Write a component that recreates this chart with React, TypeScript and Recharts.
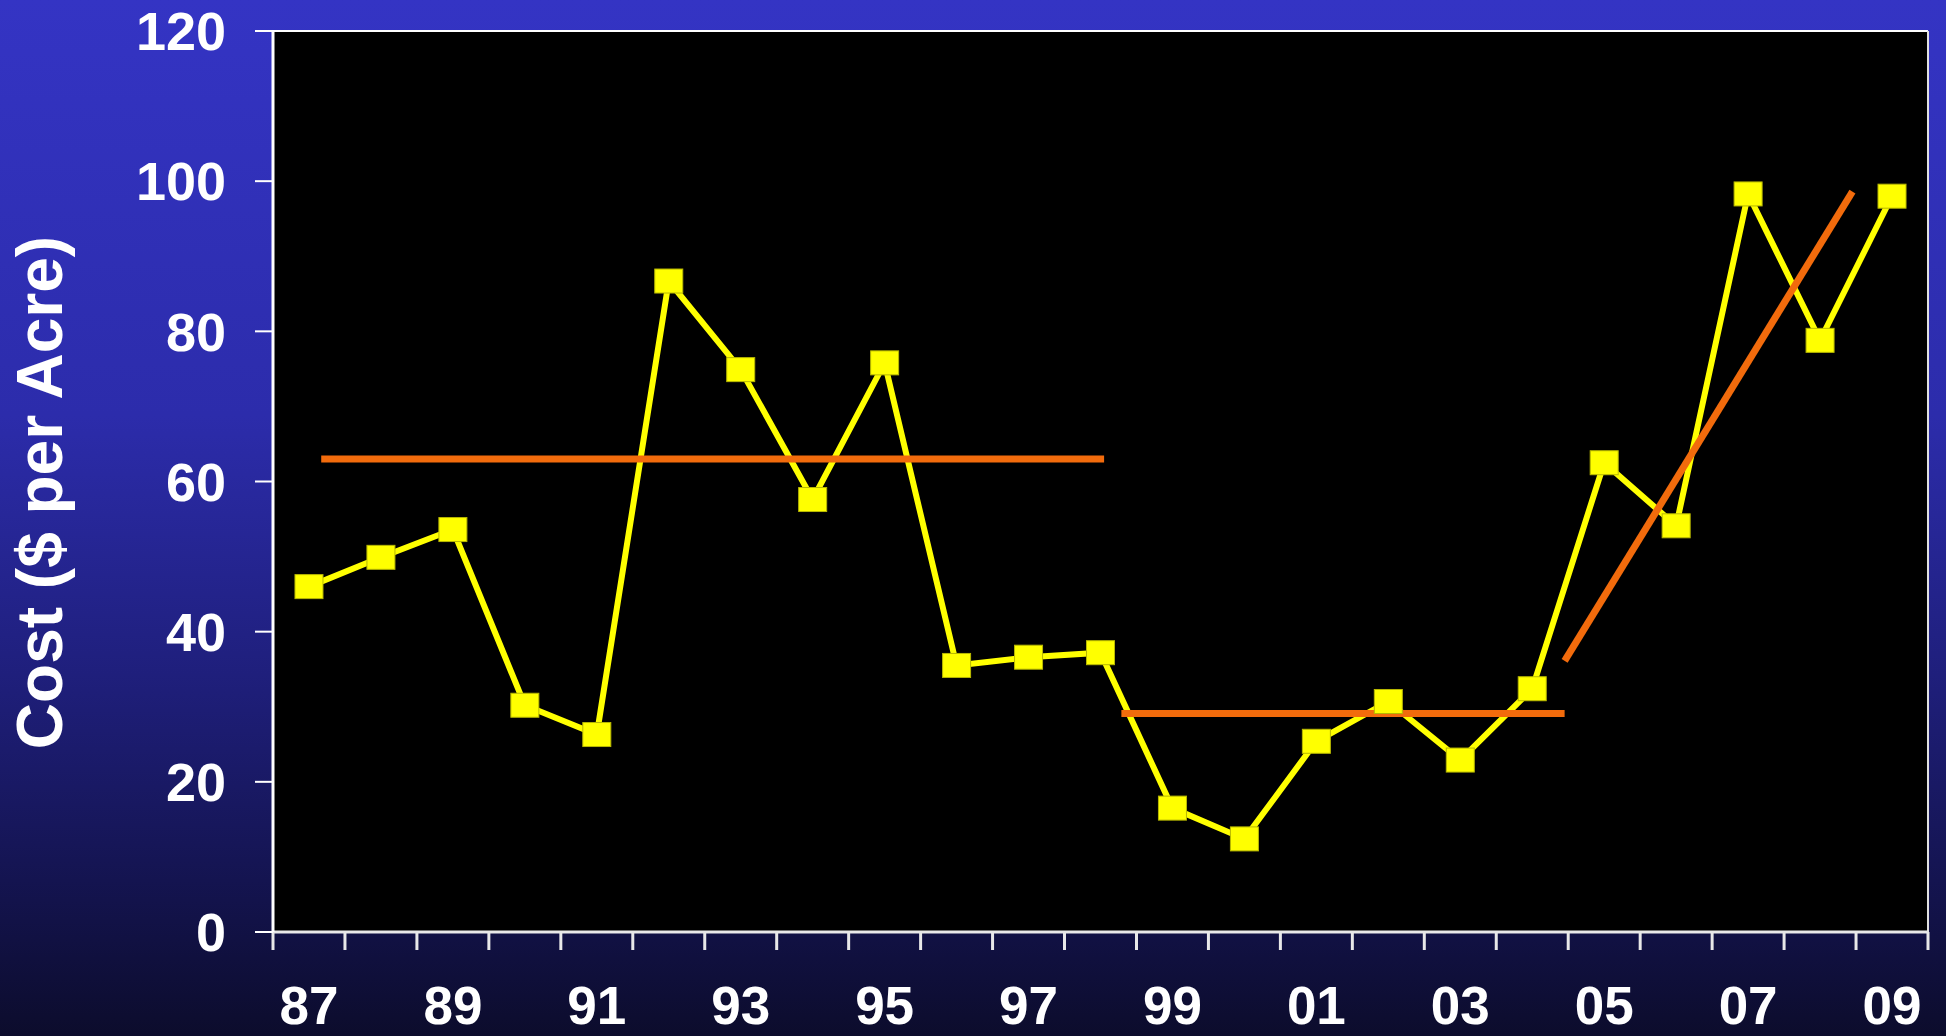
import React from 'react';
import { LineChart, Line, XAxis, YAxis, CartesianGrid, ReferenceLine } from 'recharts';

// Yearly cost, one point per season
const years = [
  1987, 1988, 1989, 1990, 1991, 1992, 1993, 1994, 1995, 1996, 1997, 1998,
  1999, 2000, 2001, 2002, 2003, 2004, 2005, 2006, 2007, 2008, 2009,
];
const cost = [
  46.0, 49.9, 53.6, 30.2, 26.3, 86.7, 74.9, 57.6, 75.8, 35.5, 36.6, 37.2,
  16.5, 12.4, 25.4, 30.7, 22.9, 32.4, 62.5, 54.1, 98.3, 78.8, 98.0,
];

// Trend segments (year, cost)
const trendEarly = [{ x: 1987.17, y: 63.0 }, { x: 1998.05, y: 63.0 }];
const trendMid = [{ x: 1998.29, y: 29.1 }, { x: 2004.45, y: 29.1 }];
const trendRecent = [{ x: 2004.45, y: 36.1 }, { x: 2008.45, y: 98.6 }];

const yTicks = [0, 20, 40, 60, 80, 100, 120];
// tick marks sit on the year boundaries
const xTicks = [...years.map((y) => y - 0.5), years[years.length - 1] + 0.5];

const data = years.map((year, i) => ({ year, cost: cost[i] }));

const W = 1946;
const H = 1036;
const MARGIN = { top: 31, right: 18, bottom: 0, left: 0 };
const Y_AXIS_W = 273;
const X_AXIS_H = 104;
const PLOT_W = W - MARGIN.left - MARGIN.right - Y_AXIS_W;
const HALF_BAND = PLOT_W / years.length / 2;

const FONT = '"Liberation Sans", Arial, sans-serif';
const YELLOW = '#ffff00';
const ORANGE = '#f26b0c';

const YearTick = (props: any) => {
  const { x, y, payload } = props;
  const year = payload.value + 0.5;
  if (year > 2009 || (year - 1987) % 2 !== 0) return <g />;
  return (
    <text
      x={x + HALF_BAND}
      y={y}
      dy="0.71em"
      textAnchor="middle"
      fill="#fff"
      fontFamily={FONT}
      fontWeight="bold"
      fontSize={53}
    >
      {String(year % 100).padStart(2, '0')}
    </text>
  );
};

const AxisTitle = (props: any) => {
  const vb = props.viewBox || { y: MARGIN.top, height: H - MARGIN.top - X_AXIS_H };
  const cy = vb.y + vb.height / 2 + 11;
  return (
    <text
      transform={`translate(62, ${cy}) rotate(-90)`}
      textAnchor="middle"
      fill="#fff"
      fontFamily={FONT}
      fontWeight="bold"
      fontSize={64}
    >
      Cost ($ per Acre)
    </text>
  );
};

const SquareDot = (props: any) => {
  const { cx, cy, index } = props;
  if (cx == null || cy == null) return <g key={index} />;
  return (
    <rect
      key={index}
      x={cx - 14}
      y={cy - 12}
      width={28}
      height={24}
      fill={YELLOW}
      stroke="#b8b800"
      strokeWidth={1}
    />
  );
};

export default function App() {
  return (
    <div
      style={{
        position: 'absolute',
        left: 0,
        top: 0,
        width: W,
        height: H,
        background:
          'linear-gradient(to bottom, #3434c4 0%, #2c2cab 40%, #1f1f7c 65%, #141450 85%, #0c0c2c 100%)',
      }}
    >
      <LineChart width={W} height={H} data={data} margin={MARGIN}>
        <CartesianGrid horizontal={false} vertical={false} fill="#000" />
        <XAxis
          dataKey="year"
          type="number"
          domain={[1986.5, 2009.5]}
          ticks={xTicks}
          interval={0}
          height={X_AXIS_H}
          axisLine={{ stroke: '#e8e8e8', strokeWidth: 3 }}
          tickLine={{ stroke: '#e8e8e8', strokeWidth: 3 }}
          tickSize={18}
          tickMargin={36}
          tick={<YearTick />}
        />
        <YAxis
          type="number"
          domain={[0, 120]}
          ticks={yTicks}
          interval={0}
          width={Y_AXIS_W}
          axisLine={{ stroke: '#fff', strokeWidth: 3 }}
          tickLine={{ stroke: '#fff', strokeWidth: 2 }}
          tickSize={18}
          tickMargin={29}
          tick={{ fill: '#fff', fontFamily: FONT, fontWeight: 'bold', fontSize: 54 }}
          label={(p: any) => <AxisTitle {...p} />}
        />
        <ReferenceLine y={120} stroke="#fff" strokeWidth={2} />
        <ReferenceLine x={2009.5} stroke="#e0e0e0" strokeWidth={2} />
        <Line
          dataKey="cost"
          stroke={YELLOW}
          strokeWidth={6}
          dot={<SquareDot />}
          activeDot={false}
          isAnimationActive={false}
        />
        <ReferenceLine segment={trendEarly} stroke={ORANGE} strokeWidth={7} />
        <ReferenceLine segment={trendMid} stroke={ORANGE} strokeWidth={7} />
        <ReferenceLine segment={trendRecent} stroke={ORANGE} strokeWidth={7} />
      </LineChart>
    </div>
  );
}
